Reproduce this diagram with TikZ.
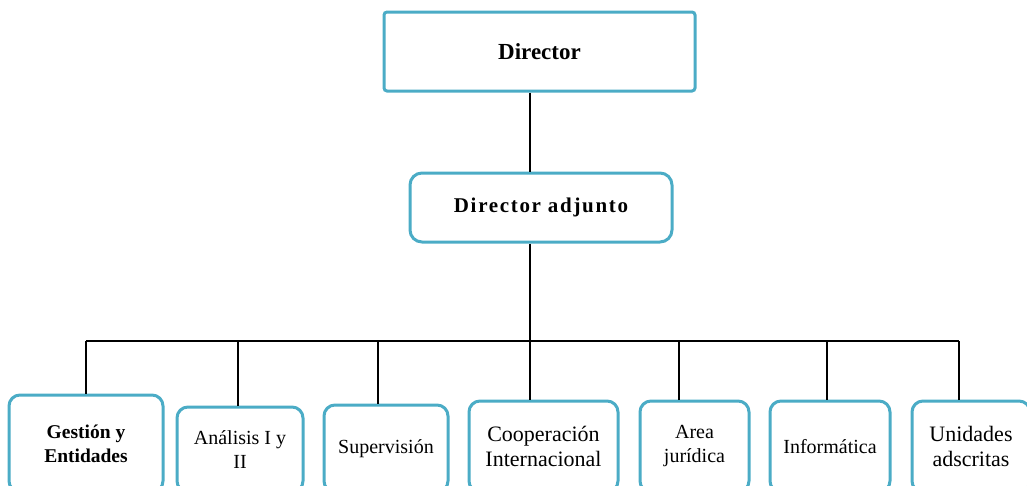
\documentclass[tikz,border=0pt]{standalone}
\usepackage{fontspec}
\setmainfont{Liberation Serif}
\definecolor{boxblue}{HTML}{4BACC6}
\tikzset{
  box/.style={draw=boxblue, line width=3pt, fill=white, rounded corners=11pt, align=center, inner sep=0pt, text=black},
  topbox/.style={box, rounded corners=3pt},
  link/.style={draw=black, line width=2pt},
  fs/.style={font=\fontsize{20}{24}\selectfont},
  fl/.style={font=\fontsize{22}{25}\selectfont},
}
\begin{document}
\begin{tikzpicture}[x=1pt, y=-1pt]
\useasboundingbox (0,0) rectangle (1027,485);
\clip (0,0) rectangle (1027,485);
% top boxes
\node[topbox, minimum width=311pt, minimum height=79pt, font=\fontsize{23}{26}\selectfont\bfseries] (dir) at (539.5,51.5) {Director};
\node[box, rounded corners=12pt, minimum width=262pt, minimum height=69pt, font=\fontsize{21}{24}\selectfont\bfseries\addfontfeature{LetterSpace=8}] (adj) at (541,207.5) {Director adjunto};
% bottom boxes
\node[box, font=\fontsize{19.5}{24}\selectfont\bfseries, minimum width=154pt, minimum height=97pt] (g1) at (86,443.5) {Gestión y\\Entidades};
\node[box, fs, minimum width=126pt, minimum height=85pt] (g2) at (240,449.5) {Análisis I y\\II};
\node[box, fs, minimum width=124pt, minimum height=87pt] (g3) at (386,448.5) {Supervisión};
\node[box, fl, minimum width=149pt, minimum height=91pt] (g4) at (543.5,446.5) {Cooperación\\Internacional};
\node[box, fs, minimum width=109pt, minimum height=91pt] (g5) at (694.5,446.5) {Area\\jurídica};
\node[box, fs, minimum width=120pt, minimum height=91pt] (g6) at (830,446.5) {Informática};
\node[box, fl, minimum width=118pt, minimum height=91pt] (g7) at (971,446.5) {Unidades\\adscritas};
% connectors
\coordinate (trunk) at (530,341);
\coordinate (b1) at (86,341);
\coordinate (b2) at (238,341);
\coordinate (b3) at (378,341);
\coordinate (b4) at (530,341);
\coordinate (b5) at (679,341);
\coordinate (b6) at (827,341);
\coordinate (b7) at (959,341);
\draw[link] (trunk |- dir.south) -- (trunk |- adj.north);
\draw[link] (trunk |- adj.south) -- (trunk);
\draw[link] (b1) -- (b7);
\foreach \i in {1,...,7} { \draw[link] (b\i) -- (b\i |- g\i.north); }
\end{tikzpicture}
\end{document}
